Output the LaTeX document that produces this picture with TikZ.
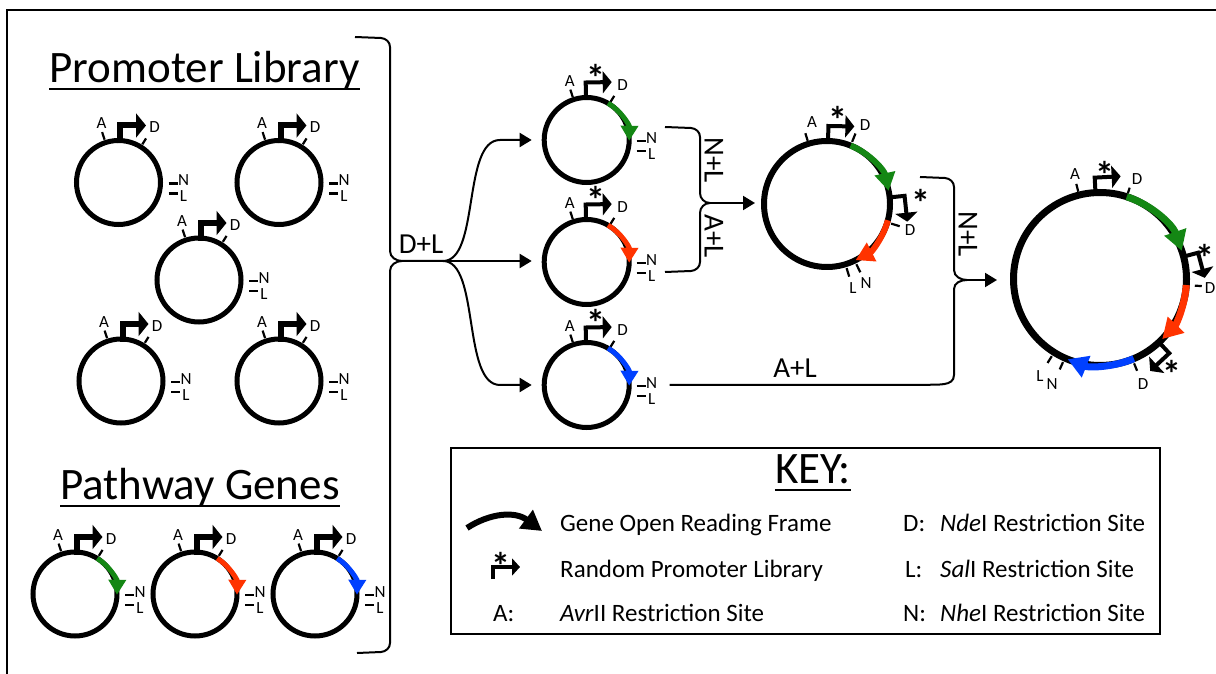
\documentclass[tikz,border=0pt]{standalone}
\usepackage{fontspec}
\setmainfont{Carlito}
\usetikzlibrary{arrows.meta,calc}
\definecolor{genegreen}{RGB}{20,135,20}
\definecolor{genered}{RGB}{255,51,0}
\definecolor{geneblue}{RGB}{0,64,255}
\tikzset{
  outerframe/.style={black, line width=2.5pt},
  plasmid/.style={circle, draw=black, line width=5pt, minimum size=84pt,
                  inner sep=0pt},
  midplasmid/.style={plasmid, line width=6pt, minimum size=126pt},
  bigplasmid/.style={plasmid, line width=7pt, minimum size=173pt},
  sitetick/.style={black, line width=2.2pt},
  sitelab/.style={font=\fontsize{17}{17}\selectfont, inner sep=0pt},
  heading/.style={font=\fontsize{45}{48}\selectfont, inner sep=0pt},
  uline/.style={black, line width=2.8pt},
  oplab/.style={font=\fontsize{29}{30}\selectfont, inner sep=0pt},
  keytext/.style={font=\fontsize{25}{27}\selectfont, inner sep=0pt,
                  anchor=base west},
  keybox/.style={black, line width=2.5pt},
  link/.style={black, line width=2pt},
  flow/.style={link, -{Triangle[length=12pt,width=14pt]}},
  libprom/.style={black, line width=6pt, line join=miter,
                  -{Triangle[length=10pt,width=24pt]}},
  rndprom/.style={black, line width=4pt, line join=miter,
                  -{Triangle[length=9pt,width=22pt]}},
  promstar/.style={font=\bfseries\fontsize{38}{38}\selectfont,
                   inner sep=0pt, yshift=-6pt},
  gene/.style={line width=5pt, -{Triangle[length=15pt,width=17pt]}},
  genemid/.style={line width=6pt, -{Triangle[length=18pt,width=20pt]}},
  genebig/.style={line width=7pt, -{Triangle[length=20pt,width=22pt]}},
  orfkey/.style={black, line width=6pt, -{Triangle[length=20pt,width=22pt]}},
}
% one radial restriction-site tick: node, angle, inner and outer radius
\newcommand{\site}[4]{\draw[sitetick] ($(#1)+(#2:#3)$) -- ($(#1)+(#2:#4)$);}
% A, D, N and L sites of a small plasmid
\newcommand{\smallsites}[1]{%
  \site{#1}{108}{45}{53}
  \site{#1}{58}{45}{52}
  \node[sitelab] (#1-a) at ($(#1)+(-17,59)$) {A};
  \node[sitelab] (#1-d) at ($(#1)+(36,55)$) {D};
  \draw[sitetick] ($(#1)+(50,-1)$) -- ++(9,0);
  \draw[sitetick] ($(#1)+(50,-11)$) -- ++(9,0);
  \node[sitelab] (#1-n) at ($(#1)+(65,2)$) {N};
  \node[sitelab] (#1-l) at ($(#1)+(65,-14)$) {L};
}
% fixed promoter on top of a small plasmid
\newcommand{\fixprom}[1]{\draw[libprom] ($(#1)+(1.5,39)$) -- ++(0,18) -- ++(26,0);}
% random promoter: node, radius, angle of the stem
\newcommand{\rndprom}[3]{%
  \begin{scope}[shift={(#1)}, rotate=#3-90]
    \draw[rndprom] (0,#2-2) -- (0,#2+15) -- (26,#2+15);
  \end{scope}}

\begin{document}
\begin{tikzpicture}[x=1pt,y=1pt]
  \path[use as bounding box] (0,0) rectangle (1216,673);
  \draw[outerframe] (1230,663) -- (7,663) -- (7,-10);

  % Promoter library.
  \node[heading, anchor=base] (tlib) at (204.5,590) {Promoter Library};
  \draw[uline] ([yshift=-6pt]tlib.base west) -- ([yshift=-6pt]tlib.base east);
  \foreach \name/\xx/\yy in {L1/118.5/490.5, L2/279/490.5, L3/199/393,
                             L4/121/292, L5/279/292}{
    \node[plasmid] (\name) at (\xx,\yy) {};
    \fixprom{\name}
    \smallsites{\name}
  }

  % Pathway genes.
  \node[heading, anchor=base] (tpath) at (200,174) {Pathway Genes};
  \draw[uline] ([yshift=-7pt]tpath.base west) -- ([yshift=-7pt]tpath.base east);
  \foreach \name/\xx/\col in {G1/75/genegreen, G2/195/genered, G3/315/geneblue}{
    \node[plasmid] (\name) at (\xx,79) {};
    \fixprom{\name}
    \smallsites{\name}
    \draw[gene, \col] ($(\name)+(58:42)$) arc[start angle=58, end angle=-1, radius=42];
  }

  % D+L brace and branches.
  \coordinate (jDL) at (443,412);
  \draw[link] (355,636) -- (381,635) to[out=-5,in=90] (390,626) -- (390,422)
    to[out=-90,in=180] (402,412) -- (jDL);
  \draw[link] (357,20) -- (381,21) to[out=5,in=-90] (390,30) -- (390,402)
    to[out=90,in=180] (402,412);
  \node[oplab, anchor=base] (dl) at (421,419) {D+L};

  % Single-gene plasmids with random promoters.
  \foreach \name/\yy/\col in {M1/533/genegreen, M2/411/genered, M3/288/geneblue}{
    \node[plasmid, minimum size=85pt] (\name) at (586.7,\yy) {};
    \rndprom{\name}{42.5}{91}
    \node[promstar] (\name-s) at ($(\name)+(9,68)$) {*};
    \smallsites{\name}
    \draw[gene, \col] ($(\name)+(60:42.5)$) arc[start angle=60, end angle=-1, radius=42.5];
  }
  \draw[flow, shorten >=10pt] (jDL) .. controls (480,412) and (462,533) .. (500,533)
    -- (M1.west);
  \draw[flow, shorten >=10pt] (jDL) -- (jDL -| M2.west);
  \draw[flow, shorten >=10pt] (jDL) .. controls (480,412) and (462,288) .. (500,288)
    -- (M3.west);

  % N+L / A+L brace.
  \coordinate (jNL) at (710,470);
  \draw[link] (665,546) -- (691,545) to[out=-5,in=90] (700,536) -- (700,480)
    to[out=-90,in=180] (jNL);
  \draw[link] (665,401) -- (691,402) to[out=5,in=-90] (700,411) -- (700,460)
    to[out=90,in=180] (jNL);
  \node[oplab, rotate=-90] (nl1) at (714,513) {N+L};
  \node[oplab, rotate=-90] (al1) at (714,437) {A+L};

  % Two-gene plasmid.
  \node[midplasmid] (P3) at (827,469) {};
  \draw[flow, shorten >=6pt] (jNL) -- (jNL -| P3.west);
  \site{P3}{107}{66}{74}
  \node[sitelab] (P3-a) at ($(P3)+(-15,82)$) {A};
  \rndprom{P3}{63}{89}
  \node[promstar] (P3-s1) at ($(P3)+(11,90)$) {*};
  \site{P3}{68}{67}{76}
  \node[sitelab] (P3-d1) at ($(P3)+(38,79)$) {D};
  \draw[genemid, genegreen] ($(P3)+(68:63)$) arc[start angle=68, end angle=12, radius=63];
  \rndprom{P3}{63}{6}
  \node[promstar] (P3-s2) at ($(P3)+(94,7)$) {*};
  \site{P3}{-17}{67}{76}
  \node[sitelab] (P3-d2) at ($(P3)+(83,-26)$) {D};
  \draw[genemid, genered] ($(P3)+(-15:63)$) arc[start angle=-15, end angle=-63, radius=63];
  \site{P3}{-73}{67}{76}
  \site{P3}{-64}{67}{76}
  \node[sitelab] (P3-l) at ($(P3)+(26,-84)$) {L};
  \node[sitelab] (P3-n) at ($(P3)+(39,-79)$) {N};

  % N+L brace with the A+L branch from the bottom plasmid.
  \coordinate (jNL2) at (967,393);
  \coordinate (aL) at ($(M3.east)+(38,0)$);
  \draw[link] (920,496) -- (945,495) to[out=-5,in=90] (954,486) -- (954,403)
    to[out=-90,in=180] (jNL2);
  \draw[link] (aL) -- (925,288) to[out=5,in=-90] (954,298) -- (954,384)
    to[out=90,in=180] (jNL2);
  \node[oplab, rotate=-90] (nl2) at (968,439) {N+L};
  \node[oplab, anchor=base] (al2) at (795,295) {A+L};

  % Three-gene plasmid.
  \node[bigplasmid] (B) at (1100,394) {};
  \draw[flow, shorten >=13pt] (jNL2) -- (jNL2 -| B.west);
  \site{B}{104}{90}{98}
  \node[sitelab] (B-a) at ($(B)+(-25,105)$) {A};
  \rndprom{B}{86.5}{93}
  \node[promstar] (B-s1) at ($(B)+(5,110)$) {*};
  \site{B}{72}{90}{96}
  \node[sitelab] (B-d1) at ($(B)+(37,100)$) {D};
  \draw[genebig, genegreen] ($(B)+(72:86.5)$) arc[start angle=72, end angle=19, radius=86.5];
  \rndprom{B}{86.5}{15}
  \node[promstar] (B-s2) at ($(B)+(105,27)$) {*};
  \site{B}{-4}{95}{102}
  \node[sitelab] (B-d2) at ($(B)+(110,-9)$) {D};
  \draw[genebig, genered] ($(B)+(-4:86.5)$) arc[start angle=-4, end angle=-44, radius=86.5];
  \rndprom{B}{86.5}{-47}
  \node[promstar] (B-s3) at ($(B)+(72,-89)$) {*};
  \site{B}{-68}{91}{99}
  \node[sitelab] (B-d3) at ($(B)+(43,-105)$) {D};
  \draw[genebig, geneblue] ($(B)+(-67:86.5)$) arc[start angle=-67, end angle=-112, radius=86.5];
  \site{B}{-122}{91}{99}
  \site{B}{-114}{91}{99}
  \node[sitelab] (B-l) at ($(B)+(-60,-97)$) {L};
  \node[sitelab] (B-n) at ($(B)+(-48,-105)$) {N};

  % Key.
  \draw[keybox] (451,225) rectangle (1160,39);
  \node[heading, anchor=base] (tkey) at (813,190) {KEY:};
  \draw[uline] ([yshift=-7pt]tkey.base west) -- ([yshift=-7pt]tkey.base east);
  \draw[orfkey] (467,145) .. controls (490,160) and (515,162) .. (542,142);
  \draw[rndprom, -{Triangle[length=8pt,width=17pt]}] (493,94) -- (493,106) -- (520,106);
  \node[promstar] (k-s) at (501,113) {*};
  \node[keytext] (k-orf) at (560,141.3) {Gene Open Reading Frame};
  \node[keytext] (k-prom) at (560,95.7) {Random Promoter Library};
  \node[keytext] (k-a) at (493,51.3) {A:};
  \node[keytext] (k-avr) at (560,51.3) {\textit{Avr}II Restriction Site};
  \node[keytext] (k-d) at (903,141.3) {D:};
  \node[keytext] (k-nde) at (940,141.3) {\textit{Nde}I Restriction Site};
  \node[keytext] (k-l) at (905,95.7) {L:};
  \node[keytext] (k-sal) at (940,95.7) {\textit{Sal}I Restriction Site};
  \node[keytext] (k-n) at (903,51.3) {N:};
  \node[keytext] (k-nhe) at (940,51.3) {\textit{Nhe}I Restriction Site};
\end{tikzpicture}
\end{document}
